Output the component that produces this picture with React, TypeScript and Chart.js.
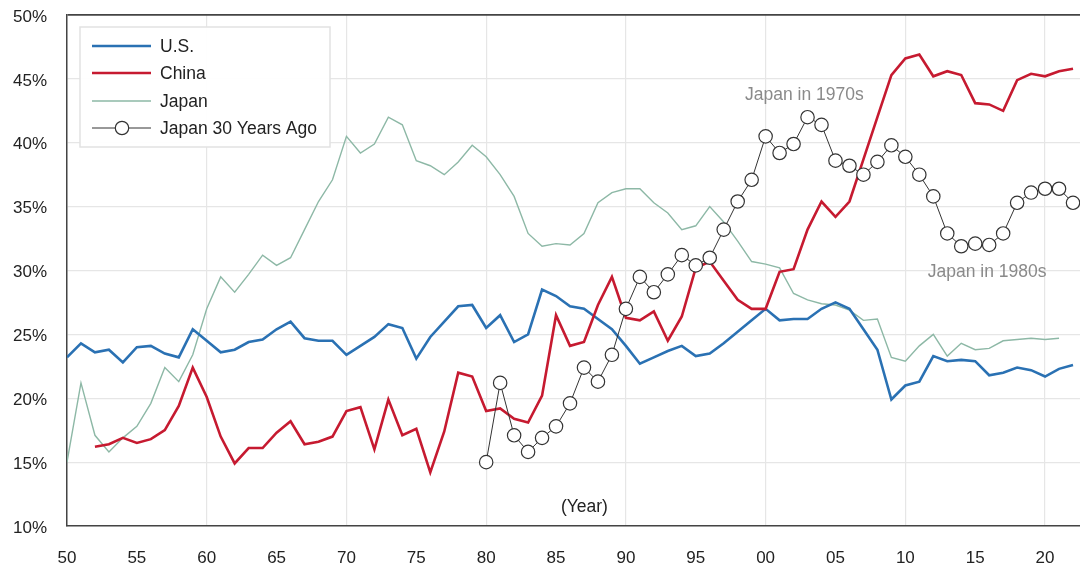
import React, { useEffect, useRef } from "react";
import { Chart, registerables } from "chart.js";

Chart.register(...registerables);

const years = [
  1950, 1951, 1952, 1953, 1954, 1955, 1956, 1957, 1958, 1959,
  1960, 1961, 1962, 1963, 1964, 1965, 1966, 1967, 1968, 1969,
  1970, 1971, 1972, 1973, 1974, 1975, 1976, 1977, 1978, 1979,
  1980, 1981, 1982, 1983, 1984, 1985, 1986, 1987, 1988, 1989,
  1990, 1991, 1992, 1993, 1994, 1995, 1996, 1997, 1998, 1999,
  2000, 2001, 2002, 2003, 2004, 2005, 2006, 2007, 2008, 2009,
  2010, 2011, 2012, 2013, 2014, 2015, 2016, 2017, 2018, 2019,
  2020, 2021, 2022,
];

const usValues = [
  23.2, 24.3, 23.6, 23.8, 22.8, 24.0, 24.1, 23.5, 23.2, 25.4,
  24.5, 23.6, 23.8, 24.4, 24.6, 25.4, 26.0, 24.7, 24.5, 24.5,
  23.4, 24.1, 24.8, 25.8, 25.5, 23.1, 24.8, 26.0, 27.2, 27.3,
  25.5, 26.5, 24.4, 25.0, 28.5, 28.0, 27.2, 27.0, 26.2, 25.4,
  24.1, 22.7, 23.2, 23.7, 24.1, 23.3, 23.5, 24.3, 25.2, 26.1,
  27.0, 26.1, 26.2, 26.2, 27.0, 27.5, 27.0, 25.4, 23.8, 19.9,
  21.0, 21.3, 23.3, 22.9, 23.0, 22.9, 21.8, 22.0, 22.4, 22.2,
  21.7, 22.3, 22.6,
];

const chinaValues = [
  null, null, 16.2, 16.4, 16.9, 16.5, 16.8, 17.5, 19.4, 22.4,
  20.1, 17.0, 14.9, 16.1, 16.1, 17.3, 18.2, 16.4, 16.6, 17.0,
  19.0, 19.3, 16.0, 19.9, 17.1, 17.6, 14.2, 17.4, 22.0, 21.7,
  19.0, 19.2, 18.4, 18.1, 20.2, 26.5, 24.1, 24.4, 27.3, 29.5,
  26.3, 26.1, 26.8, 24.5, 26.4, 30.2, 30.7, 29.2, 27.7, 27.0,
  27.0, 29.9, 30.1, 33.2, 35.4, 34.2, 35.4, 38.7, 42.0, 45.3,
  46.6, 46.9, 45.2, 45.6, 45.3, 43.1, 43.0, 42.5, 44.9, 45.4,
  45.2, 45.6, 45.8,
];

const japanValues = [
  15.0, 21.2, 17.1, 15.8, 16.9, 17.8, 19.6, 22.4, 21.3, 23.4,
  27.0, 29.5, 28.3, 29.7, 31.2, 30.4, 31.0, 33.2, 35.4, 37.1,
  40.5, 39.2, 39.9, 42.0, 41.4, 38.6, 38.2, 37.5, 38.5, 39.8,
  38.9, 37.5, 35.8, 32.9, 31.9, 32.1, 32.0, 32.9, 35.3, 36.1,
  36.4, 36.4, 35.3, 34.5, 33.2, 33.5, 35.0, 33.8, 32.3, 30.7,
  30.5, 30.2, 28.2, 27.7, 27.4, 27.3, 26.9, 26.1, 26.2, 23.2,
  22.9, 24.1, 25.0, 23.3, 24.3, 23.8, 23.9, 24.5, 24.6, 24.7,
  24.6, 24.7, null,
];

const japan30Values = [
  null, null, null, null, null, null, null, null, null, null,
  null, null, null, null, null, null, null, null, null, null,
  null, null, null, null, null, null, null, null, null, null,
  15.0, 21.2, 17.1, 15.8, 16.9, 17.8, 19.6, 22.4, 21.3, 23.4,
  27.0, 29.5, 28.3, 29.7, 31.2, 30.4, 31.0, 33.2, 35.4, 37.1,
  40.5, 39.2, 39.9, 42.0, 41.4, 38.6, 38.2, 37.5, 38.5, 39.8,
  38.9, 37.5, 35.8, 32.9, 31.9, 32.1, 32.0, 32.9, 35.3, 36.1,
  36.4, 36.4, 35.3,
];

const seriesLabels = ["U.S.", "China", "Japan", "Japan 30 Years Ago"];
const annotationTexts = ["Japan in 1970s", "Japan in 1980s", "(Year)"];
const yTickValues = [10, 15, 20, 25, 30, 35, 40, 45, 50];

const FONT = "'Liberation Sans', Arial, Helvetica, sans-serif";
const BLUE = "#2a71b3";
const RED = "#c61a30";
const GREEN = "#8db8a6";
const DARK = "#333333";

function toPoints(vals: (number | null)[]) {
  return years.map((yr, i) => ({ x: yr, y: vals[i] }));
}

const overlayPlugin = {
  id: "overlay",
  afterDraw(chart: any) {
    const ctx = chart.ctx;
    const xs = chart.scales.x;
    const ys = chart.scales.y;
    ctx.save();
    // annotations
    ctx.font = `17.5px ${FONT}`;
    ctx.textBaseline = "middle";
    ctx.textAlign = "left";
    ctx.fillStyle = "#8a8a8a";
    ctx.fillText(annotationTexts[0], xs.getPixelForValue(1998.53), ys.getPixelForValue(43.7));
    ctx.fillText(annotationTexts[1], xs.getPixelForValue(2011.6), ys.getPixelForValue(29.85));
    ctx.fillStyle = "#222222";
    ctx.fillText(annotationTexts[2], xs.getPixelForValue(1985.35), ys.getPixelForValue(11.45));

    // legend
    const left = chart.chartArea.left + 13;
    const top = chart.chartArea.top + 12;
    const w = 250;
    const h = 120;
    ctx.fillStyle = "rgba(255,255,255,0.95)";
    ctx.fillRect(left, top, w, h);
    ctx.strokeStyle = "#e2e2e2";
    ctx.lineWidth = 1.5;
    ctx.strokeRect(left, top, w, h);
    const rows = [19, 46, 74, 101];
    chart.data.datasets.forEach((ds: any) => {
      const idx = seriesLabels.indexOf(ds.label);
      const ry = top + rows[idx];
      ctx.beginPath();
      ctx.strokeStyle = ds.borderColor;
      ctx.lineWidth = ds.borderWidth;
      ctx.moveTo(left + 12, ry);
      ctx.lineTo(left + 71, ry);
      ctx.stroke();
      if (ds.pointRadius > 0) {
        ctx.beginPath();
        ctx.arc(left + 42, ry, ds.pointRadius, 0, Math.PI * 2);
        ctx.fillStyle = "#ffffff";
        ctx.fill();
        ctx.lineWidth = ds.pointBorderWidth;
        ctx.strokeStyle = ds.pointBorderColor;
        ctx.stroke();
      }
      ctx.fillStyle = "#222222";
      ctx.font = `17.5px ${FONT}`;
      ctx.textAlign = "left";
      ctx.textBaseline = "middle";
      ctx.fillText(ds.label, left + 80, ry + 1);
    });
    ctx.restore();
  },
};

export default function App() {
  const canvasRef = useRef<HTMLCanvasElement | null>(null);

  useEffect(() => {
    document.body.style.margin = "0";
    const canvas = canvasRef.current;
    if (!canvas) return;
    const chart = new Chart(canvas, {
      type: "line",
      data: {
        datasets: [
          {
            label: seriesLabels[3],
            data: toPoints(japan30Values),
            borderColor: DARK,
            borderWidth: 1,
            pointRadius: 6.7,
            pointBackgroundColor: "#ffffff",
            pointBorderColor: DARK,
            pointBorderWidth: 1.2,
            tension: 0,
            spanGaps: false,
            order: 0,
          },
          {
            label: seriesLabels[1],
            data: toPoints(chinaValues),
            borderColor: RED,
            borderWidth: 2.6,
            pointRadius: 0,
            tension: 0,
            order: 1,
          },
          {
            label: seriesLabels[0],
            data: toPoints(usValues),
            borderColor: BLUE,
            borderWidth: 2.6,
            pointRadius: 0,
            tension: 0,
            order: 2,
          },
          {
            label: seriesLabels[2],
            data: toPoints(japanValues),
            borderColor: GREEN,
            borderWidth: 1.4,
            pointRadius: 0,
            tension: 0,
            order: 3,
          },
        ],
      },
      options: {
        animation: false,
        responsive: false,
        maintainAspectRatio: false,
        layout: { autoPadding: false, padding: { top: 15, left: 0, right: 0, bottom: 0 } },
        plugins: {
          legend: { display: false },
          tooltip: { enabled: false },
        },
        scales: {
          x: {
            type: "linear",
            min: 1950,
            max: 2022.5,
            afterFit(scale: any) {
              scale.height = 40;
              scale.paddingLeft = 0;
              scale.paddingRight = 0;
              scale.paddingTop = 0;
              scale.paddingBottom = 0;
            },
            border: { color: "#444444", width: 1.5 },
            grid: {
              drawTicks: false,
              color: (c: any) =>
                c.tick && Math.round(c.tick.value) % 10 === 0 ? "#e6e6e6" : "rgba(0,0,0,0)",
              lineWidth: 1.2,
            },
            ticks: {
              stepSize: 5,
              includeBounds: false,
              autoSkip: false,
              maxRotation: 0,
              padding: 22,
              color: "#222222",
              font: { family: FONT, size: 17 },
              callback: (v: any) => String(Math.round(Number(v)) % 100).padStart(2, "0"),
            },
          },
          y: {
            type: "linear",
            min: yTickValues[0],
            max: yTickValues[yTickValues.length - 1],
            afterFit(scale: any) {
              scale.width = 67;
              scale.paddingLeft = 0;
              scale.paddingRight = 0;
              scale.paddingTop = 0;
              scale.paddingBottom = 0;
            },
            border: { color: "#444444", width: 1.5 },
            grid: {
              drawTicks: false,
              color: (c: any) =>
                c.tick && c.tick.value === 50 ? "#444444" : "#e6e6e6",
              lineWidth: (c: any) => (c.tick && c.tick.value === 50 ? 1.8 : 1.2),
            },
            ticks: {
              stepSize: 5,
              padding: 20,
              labelOffset: 2,
              color: "#222222",
              font: { family: FONT, size: 17 },
              callback: (v: any) => `${v}%`,
            },
          },
        },
      },
      plugins: [overlayPlugin],
    } as any);
    return () => chart.destroy();
  }, []);

  return (
    <div style={{ position: "absolute", left: 0, top: 0, width: 1080, height: 566, background: "#ffffff" }}>
      <canvas ref={canvasRef} width={1080} height={566} />
    </div>
  );
}
